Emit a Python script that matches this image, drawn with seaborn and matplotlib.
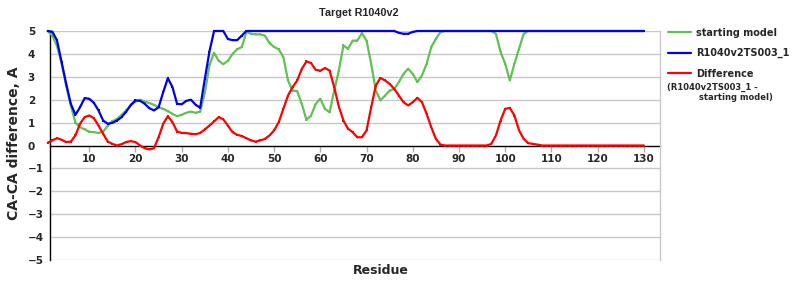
import numpy as np
import pandas as pd
import matplotlib
matplotlib.use("Agg")
import matplotlib.pyplot as plt
import seaborn as sns

residues = list(range(1, 131))

starting_model = [
    5.0, 4.8, 4.35, 3.6, 2.6, 1.75, 1.0, 0.8, 0.7, 0.6,
    0.58, 0.55, 0.6, 0.87, 1.06, 1.16, 1.34, 1.53, 1.75, 1.92,
    2.0, 1.92, 1.85, 1.78, 1.67, 1.6, 1.5, 1.38, 1.28, 1.34,
    1.43, 1.48, 1.43, 1.48, 2.3, 3.5, 4.05, 3.7, 3.55, 3.7,
    4.0, 4.2, 4.3, 4.95, 4.88, 4.85, 4.85, 4.8, 4.47, 4.3,
    4.2, 3.86, 2.84, 2.4, 2.37, 1.8, 1.12, 1.31, 1.82, 2.04,
    1.6, 1.45, 2.4, 3.27, 4.37, 4.22, 4.58, 4.58, 4.9, 4.58,
    3.57, 2.4, 1.97, 2.18, 2.4, 2.47, 2.77, 3.13, 3.35, 3.13,
    2.77, 3.06, 3.57, 4.29, 4.66, 4.95, 5.0, 5.0, 5.0, 5.0,
    5.0, 5.0, 5.0, 5.0, 5.0, 5.0, 5.0, 4.88, 4.08, 3.57,
    2.84, 3.57, 4.22, 4.88, 5.0, 5.0, 5.0, 5.0, 5.0, 5.0,
    5.0, 5.0, 5.0, 5.0, 5.0, 5.0, 5.0, 5.0, 5.0, 5.0,
    5.0, 5.0, 5.0, 5.0, 5.0, 5.0, 5.0, 5.0, 5.0, 5.0,
]

model_ts003 = [
    5.0, 4.97, 4.6, 3.64, 2.7, 1.82, 1.34, 1.67, 2.07, 2.04,
    1.86, 1.53, 1.09, 0.95, 0.99, 1.09, 1.24, 1.48, 1.78, 1.97,
    1.95, 1.82, 1.63, 1.53, 1.67, 2.33, 2.94, 2.55, 1.82, 1.8,
    1.95, 2.0, 1.78, 1.65, 2.9, 4.1, 5.0, 5.0, 5.0, 4.65,
    4.6, 4.6, 4.8, 5.0, 5.0, 5.0, 5.0, 5.0, 5.0, 5.0,
    5.0, 5.0, 5.0, 5.0, 5.0, 5.0, 5.0, 5.0, 5.0, 5.0,
    5.0, 5.0, 5.0, 5.0, 5.0, 5.0, 5.0, 5.0, 5.0, 5.0,
    5.0, 5.0, 5.0, 5.0, 5.0, 5.0, 4.92, 4.88, 4.88, 4.96,
    5.0, 5.0, 5.0, 5.0, 5.0, 5.0, 5.0, 5.0, 5.0, 5.0,
    5.0, 5.0, 5.0, 5.0, 5.0, 5.0, 5.0, 5.0, 5.0, 5.0,
    5.0, 5.0, 5.0, 5.0, 5.0, 5.0, 5.0, 5.0, 5.0, 5.0,
    5.0, 5.0, 5.0, 5.0, 5.0, 5.0, 5.0, 5.0, 5.0, 5.0,
    5.0, 5.0, 5.0, 5.0, 5.0, 5.0, 5.0, 5.0, 5.0, 5.0,
]

difference = [
    0.12, 0.22, 0.32, 0.25, 0.15, 0.17, 0.44, 0.95, 1.24, 1.31,
    1.19, 0.87, 0.51, 0.17, 0.07, 0.0, 0.06, 0.15, 0.19, 0.15,
    0.0, -0.12, -0.17, -0.12, 0.36, 0.95, 1.28, 1.02, 0.61, 0.55,
    0.54, 0.51, 0.49, 0.55, 0.7, 0.87, 1.05, 1.24, 1.14, 0.87,
    0.58, 0.47, 0.41, 0.32, 0.22, 0.17, 0.22, 0.29, 0.44, 0.66,
    1.02, 1.6, 2.18, 2.55, 2.84, 3.35, 3.67, 3.6, 3.3, 3.27,
    3.38, 3.27, 2.55, 1.7, 1.09, 0.73, 0.58, 0.36, 0.36, 0.66,
    1.67, 2.62, 2.95, 2.84, 2.69, 2.47, 2.18, 1.89, 1.75, 1.89,
    2.08, 1.89, 1.38, 0.8, 0.29, 0.04, 0.0, 0.0, 0.0, 0.0,
    0.0, 0.0, 0.0, 0.0, 0.0, 0.0, 0.07, 0.44, 1.09, 1.6,
    1.64, 1.31, 0.66, 0.29, 0.1, 0.07, 0.04, 0.0, 0.0, 0.0,
    0.0, 0.0, 0.0, 0.0, 0.0, 0.0, 0.0, 0.0, 0.0, 0.0,
    0.0, 0.0, 0.0, 0.0, 0.0, 0.0, 0.0, 0.0, 0.0, 0.0,
]

series_names = ["starting model", "R1040v2TS003_1", "Difference"]
series_colors = ["#62c054", "#0000f0", "#ff0000"]
x_ticks = list(range(10, 131, 10))
y_ticks = list(range(-5, 6))
title = "Target R1040v2"
x_label = "Residue"
y_label = "CA-CA difference, A"
diff_note_1 = "(R1040v2TS003_1 -"
diff_note_2 = "starting model)"

df = pd.DataFrame({
    "Residue": residues * 3,
    "value": starting_model + model_ts003 + difference,
    "series": [series_names[0]] * 130 + [series_names[1]] * 130 + [series_names[2]] * 130,
})

sns.set_theme(style="white")
plt.rcParams["font.family"] = ["DejaVu Sans"]

fig = plt.figure(figsize=(8, 3), dpi=100)
ax = fig.add_axes([50 / 800, 1 - 260 / 300, 610 / 800, 229 / 300])

for name, col in zip(series_names, series_colors):
    sub = df[df["series"] == name]
    sns.lineplot(data=sub, x="Residue", y="value", ax=ax, color=col,
                 linewidth=1.6, marker="s", markersize=1.8, markeredgewidth=0,
                 label=name, clip_on=False, zorder=3)

ax.set_xlim(1.5, 133.5)
ax.set_ylim(-5, 5)
ax.set_yticks(y_ticks)
ax.set_yticklabels([str(v).replace("-", "\u2212") for v in y_ticks])
ax.set_xticks(x_ticks)
ax.set_xticklabels([str(v) for v in x_ticks])

for v in y_ticks:
    if v != 0:
        ax.axhline(v, color="#c8c8c8", linewidth=1.0, zorder=0)

ax.spines["top"].set_visible(False)
ax.spines["right"].set_color("#c8c8c8")
ax.spines["right"].set_linewidth(1.0)
ax.spines["left"].set_color("black")
ax.spines["left"].set_linewidth(1.0)
ax.spines["bottom"].set_position(("data", 0))
ax.spines["bottom"].set_color("black")
ax.spines["bottom"].set_linewidth(1.0)
ax.spines["bottom"].set_zorder(2)

ax.tick_params(axis="y", length=0, pad=16, labelsize=7.5)
ax.tick_params(axis="x", length=4, width=1, color="#b0b0b0", direction="out",
               pad=2, labelsize=7.5, bottom=True)
for lab in ax.get_xticklabels() + ax.get_yticklabels():
    lab.set_fontweight("bold")
    lab.set_fontfamily(["DejaVu Sans"])
for lab in ax.get_yticklabels():
    lab.set_horizontalalignment("left")

ax.set_xlabel("")
ax.set_ylabel("")
fig.text(381 / 800, 1 - 270 / 300, x_label, ha="center", va="center",
         fontsize=9, fontweight="bold", family=["DejaVu Sans"])
fig.text(14 / 800, 1 - 143 / 300, y_label, ha="center", va="center", rotation=90,
         fontsize=10, fontweight="bold", family=["DejaVu Sans"])
fig.text(359 / 800, 1 - 13 / 300, title, ha="center", va="center",
         fontsize=7.8, fontweight="bold", family=["Liberation Sans", "DejaVu Sans"])

handles, labels = ax.get_legend_handles_labels()
leg = ax.legend(handles, labels, loc="upper left",
                bbox_to_anchor=(664 / 800, 1 - 24 / 300), bbox_transform=fig.transFigure,
                frameon=False, prop={"family": "DejaVu Sans", "weight": "bold", "size": 7},
                handlelength=2.4, handletextpad=0.5, labelspacing=1.05, borderaxespad=0)
for h in leg.legend_handles:
    h.set_linewidth(1.6)

fig.text(667 / 800, 1 - 87 / 300, diff_note_1, ha="left", va="center",
         fontsize=6, fontweight="bold", family=["DejaVu Sans"])
fig.text(699 / 800, 1 - 98 / 300, diff_note_2, ha="left", va="center",
         fontsize=6, fontweight="bold", family=["DejaVu Sans"])

fig.savefig("out.png", dpi=100)
